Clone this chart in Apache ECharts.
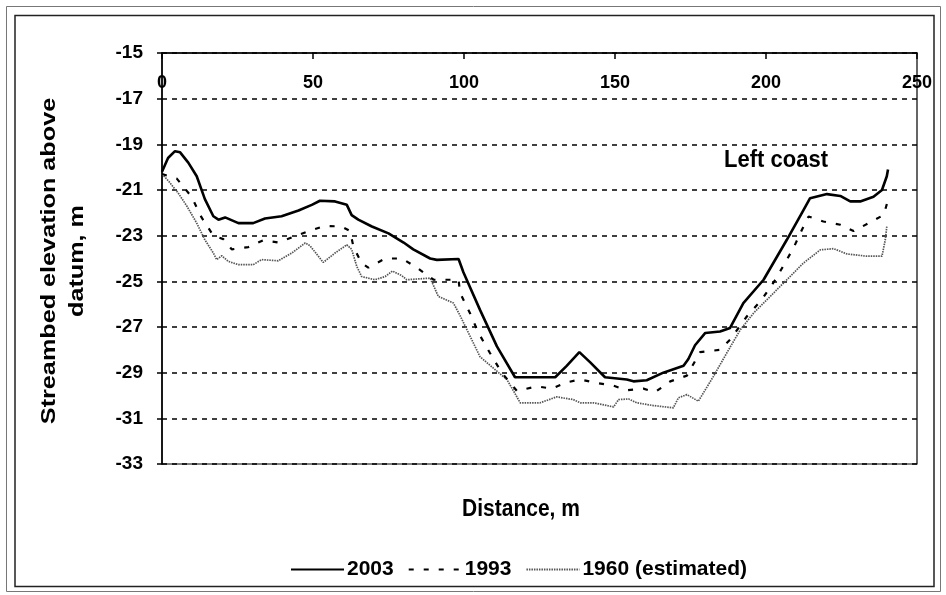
<!DOCTYPE html>
<html>
<head>
<meta charset="utf-8">
<script src="https://cdn.jsdelivr.net/npm/echarts@6/dist/echarts.min.js"></script>
<style>
  html, body { margin: 0; padding: 0; background: #fff; }
  #chart { width: 946px; height: 595px; }
</style>
</head>
<body>
<div id="chart"></div>
<script>
// Streambed cross-section profiles: distance (m) and elevation above datum (m)
const dist2003 = [0, 2, 4.3, 6, 8.7, 11.5, 14.2, 17, 18.7, 20.9, 25.3, 30.2, 34.1, 39.6, 45.2, 49.6, 52.3, 57.3, 61.2, 62.8, 65, 69.5, 75, 80, 83.2, 88.8, 91, 98.2, 99.8, 105.3, 110.9, 116.9, 130.2, 134, 138.2, 141.8, 146.7, 153.9, 156.1, 160.5, 166, 172.7, 174.3, 176.5, 179.9, 184.8, 188.1, 192.5, 199.2, 206.9, 211.9, 214.6, 220.2, 224.6, 227.9, 231.2, 235.6, 238.4, 240, 240.4];
const elev2003 = [-20.2, -19.6, -19.3, -19.35, -19.8, -20.4, -21.4, -22.15, -22.3, -22.2, -22.45, -22.45, -22.25, -22.15, -21.9, -21.65, -21.47, -21.5, -21.65, -22.1, -22.3, -22.6, -22.9, -23.3, -23.6, -24.0, -24.06, -24.02, -24.6, -26.25, -27.85, -29.2, -29.2, -28.7, -28.1, -28.55, -29.2, -29.3, -29.38, -29.33, -29.0, -28.7, -28.4, -27.8, -27.26, -27.2, -27.04, -25.95, -24.93, -23.18, -22.0, -21.36, -21.18, -21.26, -21.5, -21.5, -21.3, -21.0, -20.4, -20.1];

const dist1993 = [0, 4.9, 9.8, 13.1, 17, 20.3, 23.1, 28.6, 33.6, 38.5, 43.5, 48.5, 54, 59.5, 62.3, 63.4, 66.1, 68.3, 73.9, 79.4, 84.4, 89.9, 98.2, 98.7, 102, 104.8, 108.6, 112.5, 117.5, 124.1, 129.1, 134.1, 138.5, 144, 149.5, 153.9, 159.4, 163.3, 168.3, 173.8, 178.2, 184.8, 188.1, 193.7, 198.6, 203.1, 206.9, 209.1, 211.9, 214.1, 219, 224.6, 229, 234, 239, 240.4];
const elev1993 = [-20.3, -20.5, -21.3, -22.2, -23.0, -23.15, -23.6, -23.5, -23.2, -23.3, -23.05, -22.8, -22.57, -22.6, -22.8, -23.5, -24.2, -24.4, -24.0, -24.0, -24.4, -24.93, -24.93, -25.5, -26.4, -27.26, -28.14, -29.0, -29.8, -29.6, -29.7, -29.42, -29.3, -29.45, -29.57, -29.77, -29.7, -29.85, -29.38, -29.13, -28.1, -28.0, -27.55, -26.53, -25.8, -24.93, -24.05, -23.54, -22.74, -22.16, -22.38, -22.52, -22.8, -22.45, -22.09, -21.43];

const dist1960 = [0, 2.1, 5.4, 8.2, 11.5, 14.2, 17, 18.1, 19.8, 22, 25.3, 30.2, 33, 38.5, 43, 47.4, 49, 53.4, 57.3, 61.2, 62.8, 64.5, 66.1, 70.5, 73.9, 76.3, 79.4, 81, 88.8, 91.5, 96.5, 98.7, 102, 105.3, 110.3, 114.2, 116.4, 118.6, 125.2, 130.7, 136.2, 138.5, 142.9, 149.5, 151.2, 154.5, 157.2, 162.7, 169.3, 171, 173.8, 177.6, 182.6, 187, 191.5, 195.9, 201.4, 206.9, 212.4, 218, 222.4, 226.8, 233.4, 238.4, 239.5, 240];
const elev1960 = [-20.3, -20.6, -21.14, -21.7, -22.45, -23.18, -23.76, -24.05, -23.88, -24.13, -24.27, -24.27, -24.05, -24.1, -23.76, -23.32, -23.44, -24.17, -23.76, -23.4, -23.6, -24.35, -24.79, -24.93, -24.79, -24.55, -24.75, -24.93, -24.86, -25.66, -25.95, -26.5, -27.4, -28.3, -28.87, -29.3, -29.8, -30.32, -30.32, -30.06, -30.18, -30.32, -30.32, -30.5, -30.18, -30.15, -30.32, -30.44, -30.54, -30.1, -29.96, -30.25, -29.16, -28.14, -27.12, -26.39, -25.66, -24.93, -24.2, -23.62, -23.57, -23.8, -23.9, -23.9, -23.18, -22.6];

const seriesNames = ['2003', '1993', '1960 (estimated)'];
const xTicks = { min: 0, max: 250, step: 50 };
const yTicks = { min: -33, max: -15, step: 2 };

const pairs = (xs, ys) => xs.map((x, i) => [x, ys[i]]);
const FONT = '"Liberation Sans", Arial, sans-serif';

const chart = echarts.init(document.getElementById('chart'), null, { renderer: 'canvas' });

chart.setOption({
  animation: false,
  backgroundColor: '#fff',
  grid: {
    left: 162, right: 29, top: 53, bottom: 131,
    show: true, borderColor: '#000', borderWidth: 1.2, backgroundColor: 'transparent'
  },
  xAxis: {
    type: 'value', position: 'top',
    min: xTicks.min, max: xTicks.max, interval: xTicks.step,
    axisLine: { show: true, lineStyle: { color: '#000', width: 1.5 } },
    axisTick: { show: true, inside: true, length: 6, lineStyle: { color: '#000', width: 1.5 } },
    axisLabel: { inside: true, margin: 21, color: '#000', fontFamily: FONT, fontWeight: 'bold', fontSize: 18 },
    splitLine: { show: false }
  },
  yAxis: {
    type: 'value',
    min: yTicks.min, max: yTicks.max, interval: yTicks.step,
    axisLine: { show: true, lineStyle: { color: '#000', width: 1.5 } },
    axisTick: { show: true, length: 5, lineStyle: { color: '#000', width: 1.5 } },
    axisLabel: { margin: 19, color: '#000', fontFamily: FONT, fontWeight: 'bold', fontSize: 19 },
    splitLine: { show: true, lineStyle: { color: '#000', width: 1.5, type: [5, 5] } }
  },
  legend: {
    left: 290, top: 559,
    itemWidth: 53, itemHeight: 14, itemGap: 14, padding: 0,
    itemStyle: { opacity: 0 },
    textStyle: { color: '#000', fontFamily: FONT, fontWeight: 'bold', fontSize: 21, padding: [0, 0, 0, -2] },
    data: seriesNames
  },
  series: [
    {
      name: seriesNames[0], type: 'line', symbol: 'none', showSymbol: false,
      data: pairs(dist2003, elev2003),
      lineStyle: { color: '#000', width: 2.6 }, itemStyle: { color: '#000' }, z: 4
    },
    {
      name: seriesNames[1], type: 'line', symbol: 'none', showSymbol: false,
      data: pairs(dist1993, elev1993),
      lineStyle: { color: '#000', width: 2.2, type: [5, 10] }, itemStyle: { color: '#000' }, z: 3
    },
    {
      name: seriesNames[2], type: 'line', symbol: 'none', showSymbol: false,
      data: pairs(dist1960, elev1960),
      lineStyle: { color: '#555', width: 1.7, type: [1.5, 1] }, itemStyle: { color: '#555' }, z: 2
    }
  ],
  graphic: [
    // double frame around the whole figure
    { type: 'rect', silent: true, z: -1, shape: { x: 6.5, y: 6.5, width: 934, height: 585 },
      style: { fill: 'none', stroke: '#777', lineWidth: 1 } },
    { type: 'rect', silent: true, z: -1, shape: { x: 15, y: 15.5, width: 919, height: 571 },
      style: { fill: 'none', stroke: '#222', lineWidth: 1.5 } },
    // axis titles
    { type: 'text', silent: true, x: 63, y: 261, rotation: Math.PI / 2, scaleX: 1.2,
      style: { text: 'Streambed elevation above\ndatum, m', fill: '#000', font: 'bold 21px ' + FONT,
               align: 'center', verticalAlign: 'middle', lineHeight: 28 } },
    { type: 'text', silent: true, x: 521, y: 510, scaleY: 1.1,
      style: { text: 'Distance, m', fill: '#000', font: 'bold 21px ' + FONT,
               align: 'center', verticalAlign: 'middle' } },
    { type: 'text', silent: true, x: 776, y: 160, scaleY: 1.1,
      style: { text: 'Left coast', fill: '#000', font: 'bold 22px ' + FONT,
               align: 'center', verticalAlign: 'middle' } }
  ]
});
</script>
</body>
</html>
